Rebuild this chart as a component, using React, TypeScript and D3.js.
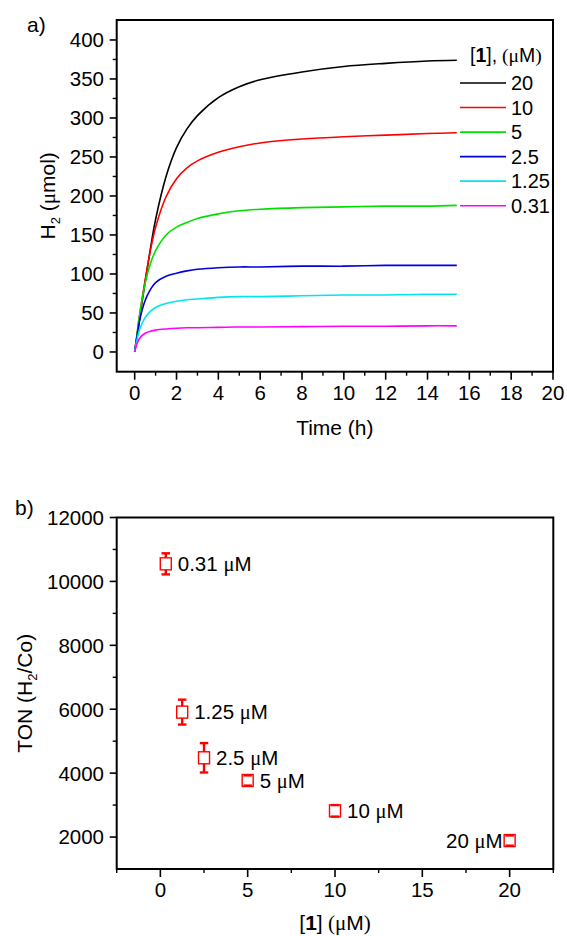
import React from 'react';
import * as d3 from 'd3';

// ---------- Panel a data ----------
const timeH = [0, 0.1, 0.25, 0.5, 0.75, 1, 1.5, 2, 2.5, 3, 4, 5, 6, 8, 10, 12, 14, 15.4];
const h2_20 = [0, 18, 45, 90, 132, 170, 225, 262, 286, 303, 326, 340, 349, 359, 366, 370, 373, 374];
const h2_10 = [0, 20, 50, 92, 130, 160, 199, 222, 236, 245, 256, 263, 268, 273, 276, 278, 280, 281];
const h2_5 = [0, 20, 50, 88, 113, 130, 150, 160, 166, 171, 177, 181, 183, 185, 186, 187, 187, 188];
const h2_2_5 = [0, 18, 42, 66, 80, 89, 97, 101, 104, 106, 108, 109, 109, 110, 110, 111, 111, 111];
const h2_1_25 = [0, 14, 30, 44, 52, 57, 62, 65, 67, 68, 70, 71, 71, 72, 73, 73, 74, 74];
const h2_0_31 = [0, 10, 18, 24, 26.5, 28, 29.5, 30.5, 31, 31, 31.5, 32, 32, 32.5, 33, 33, 33.5, 33.5];
const seriesNames = ['20', '10', '5', '2.5', '1.25', '0.31'];
const seriesValues = [h2_20, h2_10, h2_5, h2_2_5, h2_1_25, h2_0_31];
const seriesColors = ['#000000', '#ff0000', '#00e000', '#0000dd', '#00e5f0', '#ff00ff'];
const aYTicks = [0, 50, 100, 150, 200, 250, 300, 350, 400];
const aXTicks = [0, 2, 4, 6, 8, 10, 12, 14, 16, 18, 20];

// ---------- Panel b data ----------
const conc = [0.31, 1.25, 2.5, 5, 10, 20];
const ton = [10550, 5910, 4480, 3770, 2820, 1890];
const tonErr = [330, 390, 460, 160, 180, 160];
const concLabels = ['0.31', '1.25', '2.5', '5', '10', '20'];
const labelLeft = [false, false, false, false, false, true];
const bYTicks = [2000, 4000, 6000, 8000, 10000, 12000];
const bXTicks = [0, 5, 10, 15, 20];

const SANS = '"Liberation Sans", Arial, Helvetica, sans-serif';
const SERIF = '"Liberation Serif", "Times New Roman", serif';
const TICK_FS = 20.5;
const TITLE_FS = 21;
const RED = '#ff0000';

export default function App() {
  // Panel a geometry
  const aL = 116.7, aR = 553, aT = 20, aB = 371.7;
  const ax = d3.scaleLinear().domain([-0.86, 20]).range([aL, aR]);
  const ay = d3.scaleLinear().domain([-25.3, 425.6]).range([aB, aT]);
  const line = d3
    .line<[number, number]>()
    .x((d) => ax(d[0]))
    .y((d) => ay(d[1]))
    .curve(d3.curveCatmullRom.alpha(0.5));

  const aYMinor = d3.range(25, 400, 50);
  const aXMinor = d3.range(1, 20, 2);

  // Panel b geometry
  const bL = 116.7, bR = 553.3, bT = 517.5, bB = 869;
  const bx = d3.scaleLinear().domain([-2.5, 22.5]).range([bL, bR]);
  const by = d3.scaleLinear().domain([1000, 12000]).range([bB, bT]);
  const bYMinor = d3.range(3000, 12000, 2000);
  const bXMinor = [-2.5, 2.5, 7.5, 12.5, 17.5, 22.5];

  const boxW = 11, boxH = 12, capW = 8.5;

  const legendX1 = 460, legendX2 = 506, legendTextX = 511;
  const legendY = d3.scaleLinear().domain([0, 5]).range([83, 205.7]);

  return (
    <svg
      width={567}
      height={936}
      style={{ position: 'absolute', left: 0, top: 0, background: '#fff' }}
      fontFamily={SANS}
    >
      <rect x={0} y={0} width={567} height={936} fill="#fff" />
      {/* ================= Panel a ================= */}
      <text x={27} y={32} fontSize={TITLE_FS} fill="#000">a)</text>

      {seriesValues.map((vals, i) => (
        <path
          key={seriesNames[i]}
          d={line(timeH.map((t, k) => [t, vals[k]] as [number, number])) || ''}
          fill="none"
          stroke={seriesColors[i]}
          strokeWidth={1.6}
        />
      ))}

      <rect x={aL} y={aT} width={aR - aL} height={aB - aT} fill="none" stroke="#000" strokeWidth={2} />

      {aYTicks.map((v) => (
        <g key={'ay' + v}>
          <line x1={aL - 7} x2={aL} y1={ay(v)} y2={ay(v)} stroke="#000" strokeWidth={1.6} />
          <text x={104} y={ay(v)} dy="0.36em" textAnchor="end" fontSize={TICK_FS}>{v}</text>
        </g>
      ))}
      {aYMinor.map((v) => (
        <line key={'aym' + v} x1={aL - 4} x2={aL} y1={ay(v)} y2={ay(v)} stroke="#000" strokeWidth={1.4} />
      ))}
      {aXTicks.map((v) => (
        <g key={'ax' + v}>
          <line x1={ax(v)} x2={ax(v)} y1={aB} y2={aB + 8} stroke="#000" strokeWidth={1.6} />
          <text x={ax(v)} y={399.5} textAnchor="middle" fontSize={TICK_FS}>{v}</text>
        </g>
      ))}
      {aXMinor.map((v) => (
        <line key={'axm' + v} x1={ax(v)} x2={ax(v)} y1={aB} y2={aB + 4} stroke="#000" strokeWidth={1.4} />
      ))}

      <text x={(aL + aR) / 2} y={435} textAnchor="middle" fontSize={TITLE_FS}>Time (h)</text>
      <text transform={`translate(55, ${(aT + aB) / 2}) rotate(-90)`} textAnchor="middle" fontSize={TITLE_FS}>
        H<tspan fontSize={13} dy={5}>2</tspan>
        <tspan dy={-5}> (</tspan>
        <tspan fontFamily={SERIF}>μ</tspan>mol)
      </text>

      {/* Legend */}
      <text x={470} y={62} fontSize={19.5}>
        [<tspan fontWeight="bold">1</tspan>],<tspan fontFamily={SERIF}> (μ</tspan>M<tspan fontFamily={SERIF}>)</tspan>
      </text>
      {seriesNames.map((n, i) => (
        <g key={'lg' + n}>
          <line x1={legendX1} x2={legendX2} y1={legendY(i)} y2={legendY(i)} stroke={seriesColors[i]} strokeWidth={1.6} />
          <text x={legendTextX} y={legendY(i)} dy="0.36em" fontSize={20}>{n}</text>
        </g>
      ))}

      {/* ================= Panel b ================= */}
      <text x={15} y={515} fontSize={TITLE_FS} fill="#000">b)</text>

      <rect x={bL} y={bT} width={bR - bL} height={bB - bT} fill="none" stroke="#000" strokeWidth={2} />

      {bYTicks.map((v) => (
        <g key={'by' + v}>
          <line x1={bL - 7} x2={bL} y1={by(v)} y2={by(v)} stroke="#000" strokeWidth={1.6} />
          <text x={104} y={by(v)} dy="0.36em" textAnchor="end" fontSize={TICK_FS}>{v}</text>
        </g>
      ))}
      {bYMinor.map((v) => (
        <line key={'bym' + v} x1={bL - 4} x2={bL} y1={by(v)} y2={by(v)} stroke="#000" strokeWidth={1.4} />
      ))}
      {bXTicks.map((v) => (
        <g key={'bx' + v}>
          <line x1={bx(v)} x2={bx(v)} y1={bB} y2={bB + 8} stroke="#000" strokeWidth={1.6} />
          <text x={bx(v)} y={897} textAnchor="middle" fontSize={TICK_FS}>{v}</text>
        </g>
      ))}
      {bXMinor.map((v) => (
        <line key={'bxm' + v} x1={bx(v)} x2={bx(v)} y1={bB} y2={bB + 4} stroke="#000" strokeWidth={1.4} />
      ))}

      <text x={(bL + bR) / 2} y={930} textAnchor="middle" fontSize={TITLE_FS}>
        [<tspan fontWeight="bold">1</tspan>]<tspan fontFamily={SERIF}> (μ</tspan>M<tspan fontFamily={SERIF}>)</tspan>
      </text>
      <text transform={`translate(32, ${(bT + bB) / 2}) rotate(-90)`} textAnchor="middle" fontSize={TITLE_FS}>
        TON (H<tspan fontSize={13} dy={5}>2</tspan>
        <tspan dy={-5}>/Co)</tspan>
      </text>

      {conc.map((c, i) => {
        const cx = bx(c);
        const cy = by(ton[i]);
        const yTop = by(ton[i] + tonErr[i]);
        const yBot = by(ton[i] - tonErr[i]);
        return (
          <g key={'pt' + i}>
            <rect x={cx - boxW / 2} y={cy - boxH / 2} width={boxW} height={boxH} fill="#fff" stroke={RED} strokeWidth={1.4} />
            {yTop < cy - boxH / 2 && (
              <line x1={cx} x2={cx} y1={yTop} y2={cy - boxH / 2} stroke={RED} strokeWidth={2.4} />
            )}
            {yBot > cy + boxH / 2 && (
              <line x1={cx} x2={cx} y1={cy + boxH / 2} y2={yBot} stroke={RED} strokeWidth={2.4} />
            )}
            <line x1={cx - capW / 2} x2={cx + capW / 2} y1={yTop} y2={yTop} stroke={RED} strokeWidth={2.4} />
            <line x1={cx - capW / 2} x2={cx + capW / 2} y1={yBot} y2={yBot} stroke={RED} strokeWidth={2.4} />
            <text
              x={labelLeft[i] ? cx - 7 : cx + 12}
              y={cy}
              dy="0.36em"
              textAnchor={labelLeft[i] ? 'end' : 'start'}
              fontSize={TICK_FS}
            >
              {concLabels[i]} <tspan fontFamily={SERIF}>μ</tspan>M
            </text>
          </g>
        );
      })}
    </svg>
  );
}
